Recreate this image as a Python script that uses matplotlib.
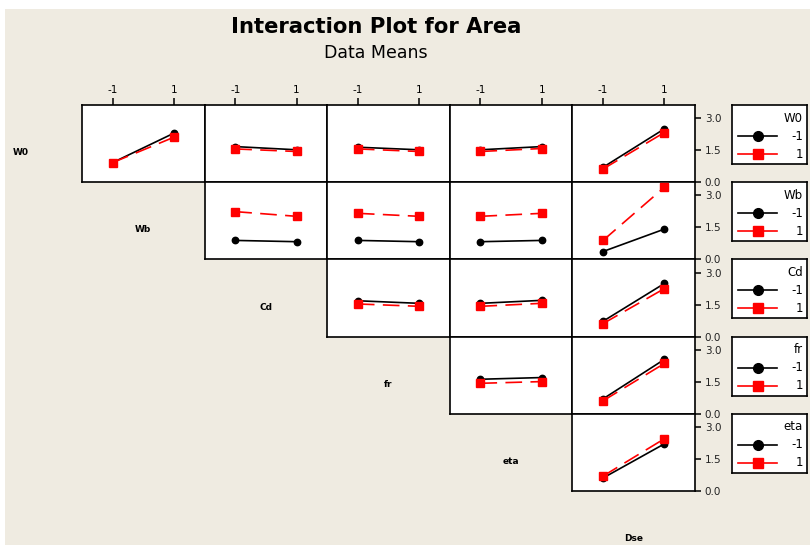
import matplotlib.pyplot as plt
from matplotlib.lines import Line2D
from matplotlib.patches import Rectangle

# factor names (row = trace factor, column = x-axis factor)
factors = ['W0', 'Wb', 'Cd', 'fr', 'eta', 'Dse']
levels = [-1, 1]

# data means for each (trace, x-factor) pair
pairs = [('W0', 'Wb'), ('W0', 'Cd'), ('W0', 'fr'), ('W0', 'eta'), ('W0', 'Dse'),
         ('Wb', 'Cd'), ('Wb', 'fr'), ('Wb', 'eta'), ('Wb', 'Dse'),
         ('Cd', 'fr'), ('Cd', 'eta'), ('Cd', 'Dse'),
         ('fr', 'eta'), ('fr', 'Dse'),
         ('eta', 'Dse')]
means_lo = [[0.92, 2.30], [1.67, 1.52], [1.64, 1.52], [1.52, 1.67], [0.70, 2.50],
            [0.89, 0.83], [0.89, 0.83], [0.83, 0.89], [0.37, 1.42],
            [1.68, 1.56], [1.56, 1.70], [0.72, 2.49],
            [1.62, 1.70], [0.70, 2.55],
            [0.61, 2.21]]
means_hi = [[0.92, 2.11], [1.56, 1.44], [1.56, 1.44], [1.44, 1.58], [0.62, 2.33],
            [2.24, 2.02], [2.16, 2.02], [2.02, 2.16], [0.89, 3.38],
            [1.53, 1.42], [1.42, 1.56], [0.61, 2.25],
            [1.43, 1.51], [0.61, 2.36],
            [0.70, 2.45]]
y_ticks = [0.0, 1.5, 3.0]

W, H = 810, 545
bg = '#EFEBE1'
fig = plt.figure(figsize=(W / 100, H / 100), dpi=100)
fig.patch.set_facecolor('white')
fig.patches.append(Rectangle((5 / W, 0), 1, 1 - 9 / H, transform=fig.transFigure,
                             facecolor=bg, edgecolor='none', zorder=-10))


def px_axes(x0, y0, w, h):
    return fig.add_axes([x0 / W, 1 - (y0 + h) / H, w / W, h / H])


left, top = 82, 105
cw, ch = 122.6, 77.2
n = len(factors) - 1

for (tr, xf), lo, hi in zip(pairs, means_lo, means_hi):
    r = factors.index(tr)
    c = factors.index(xf) - 1
    ax = px_axes(left + c * cw, top + r * ch, cw, ch)
    ax.plot(levels, lo, color='black', lw=1.2, marker='o', ms=4.6, zorder=3)
    ax.plot(levels, hi, color='red', lw=1.2, ls=(0, (10, 5)), marker='s', ms=5.2, zorder=4)
    ax.set_xlim(-2, 2)
    ax.set_ylim(0, 3.62)
    for s in ax.spines.values():
        s.set_linewidth(1.2)
    ax.set_xticks([])
    ax.set_yticks([])
    if r == 0:
        ax.xaxis.tick_top()
        ax.set_xticks(levels)
        ax.set_xticklabels([str(v) for v in levels], fontsize=7.5)
        ax.tick_params(axis='x', direction='out', length=5, width=1.1, pad=2)
    if c == n - 1:
        ax.yaxis.tick_right()
        ax.set_yticks(y_ticks)
        ax.set_yticklabels([f'{v:.1f}' for v in y_ticks], fontsize=7.5, color='#222222')
        ax.tick_params(axis='y', direction='out', length=4, width=1.1, pad=3)

# legends, one per trace factor
for r, f in enumerate(factors[:-1]):
    y0 = top + r * ch
    lax = px_axes(732, y0, 75, 59)
    lax.set_xlim(0, 75)
    lax.set_ylim(59, 0)
    lax.set_xticks([])
    lax.set_yticks([])
    for s in lax.spines.values():
        s.set_linewidth(1.2)
    lax.text(71, 13, f, ha='right', va='center', fontsize=8.5)
    lax.add_line(Line2D([6, 45], [31, 31], color='black', lw=1.2))
    lax.plot([25.5], [31], 'o', color='black', ms=7)
    lax.text(71, 31, '-1', ha='right', va='center', fontsize=8.5)
    lax.add_line(Line2D([6, 45], [49, 49], color='red', lw=1.2))
    lax.plot([25.5], [49], 's', color='red', ms=7.5)
    lax.text(71, 49, '1', ha='right', va='center', fontsize=8.5)

# diagonal factor labels
for i, f in enumerate(factors):
    fig.text((left + (i - 0.5) * cw) / W, 1 - (top + (i + 0.5) * ch + 9) / H, f,
             ha='center', va='center', fontsize=6.5, fontweight='bold')

fig.text(376 / W, 1 - 27 / H, 'Interaction Plot for Area', ha='center', va='center',
         fontsize=15.2, fontweight='bold')
fig.text(376 / W, 1 - 53 / H, 'Data Means', ha='center', va='center', fontsize=12.5)

fig.savefig('out.png', dpi=100, facecolor='white')
